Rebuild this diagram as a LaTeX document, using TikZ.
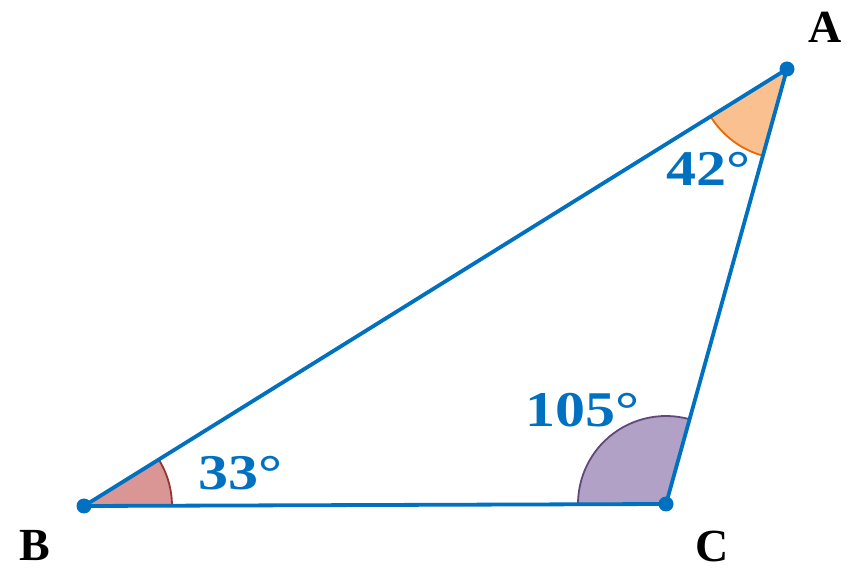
\documentclass[tikz,border=0pt]{standalone}
\usepackage{fontspec}
\setmainfont{Liberation Serif}
\definecolor{lineblue}{HTML}{0070C0}
\definecolor{fillB}{HTML}{D99694}
\definecolor{edgeB}{HTML}{943634}
\definecolor{fillA}{HTML}{FAC090}
\definecolor{edgeA}{HTML}{E36C09}
\definecolor{fillC}{HTML}{B2A1C7}
\definecolor{edgeC}{HTML}{5F497A}
\tikzset{
  side/.style={draw=lineblue, line width=3.8pt, line join=round},
  vdot/.style={circle, fill=lineblue, inner sep=0pt, minimum size=15pt},
  vlabel/.style={font=\fontsize{46}{46}\selectfont\bfseries, text=black, inner sep=0pt},
  anglabel/.style={font=\fontsize{50}{50}\selectfont\bfseries, text=lineblue, inner sep=0pt, xscale=1.2},
  arcline/.style={line width=1.8pt}
}
\begin{document}
\begin{tikzpicture}[x=1pt,y=1pt]
\useasboundingbox (0,0) rectangle (856,570);
\coordinate (A) at (787,501);
\coordinate (B) at (84,64);
\coordinate (C) at (666,66);
% angle sectors
\fill[fillB] (B) -- ++(0.2:88) arc[start angle=0.2, end angle=31.9, radius=88] -- cycle;
\draw[edgeB, arcline] ([shift={(0.2:88)}]B) arc[start angle=0.2, end angle=31.9, radius=88];
\fill[fillA] (A) -- ++(211.9:90) arc[start angle=211.9, end angle=254.5, radius=90] -- cycle;
\draw[edgeA, arcline] ([shift={(211.9:90)}]A) arc[start angle=211.9, end angle=254.5, radius=90];
\fill[fillC] (C) -- ++(74.5:88) arc[start angle=74.5, end angle=180.2, radius=88] -- cycle;
\draw[edgeC, arcline] ([shift={(74.5:88)}]C) arc[start angle=74.5, end angle=180.2, radius=88];
% triangle
\draw[side] (A) -- (B) -- (C) -- cycle;
\node[vdot] (dA) at (A) {};
\node[vdot] (dB) at (B) {};
\node[vdot] (dC) at (C) {};
% labels
\node[vlabel] (lA) at (825,543) {A};
\node[vlabel] (lB) at (35,24) {B};
\node[vlabel] (lC) at (712,24) {C};
\node[anglabel] (tA) at (708,401) {42°};
\node[anglabel] (tC) at (582,160) {105°};
\node[anglabel] (tB) at (240,97) {33°};
\end{tikzpicture}
\end{document}
